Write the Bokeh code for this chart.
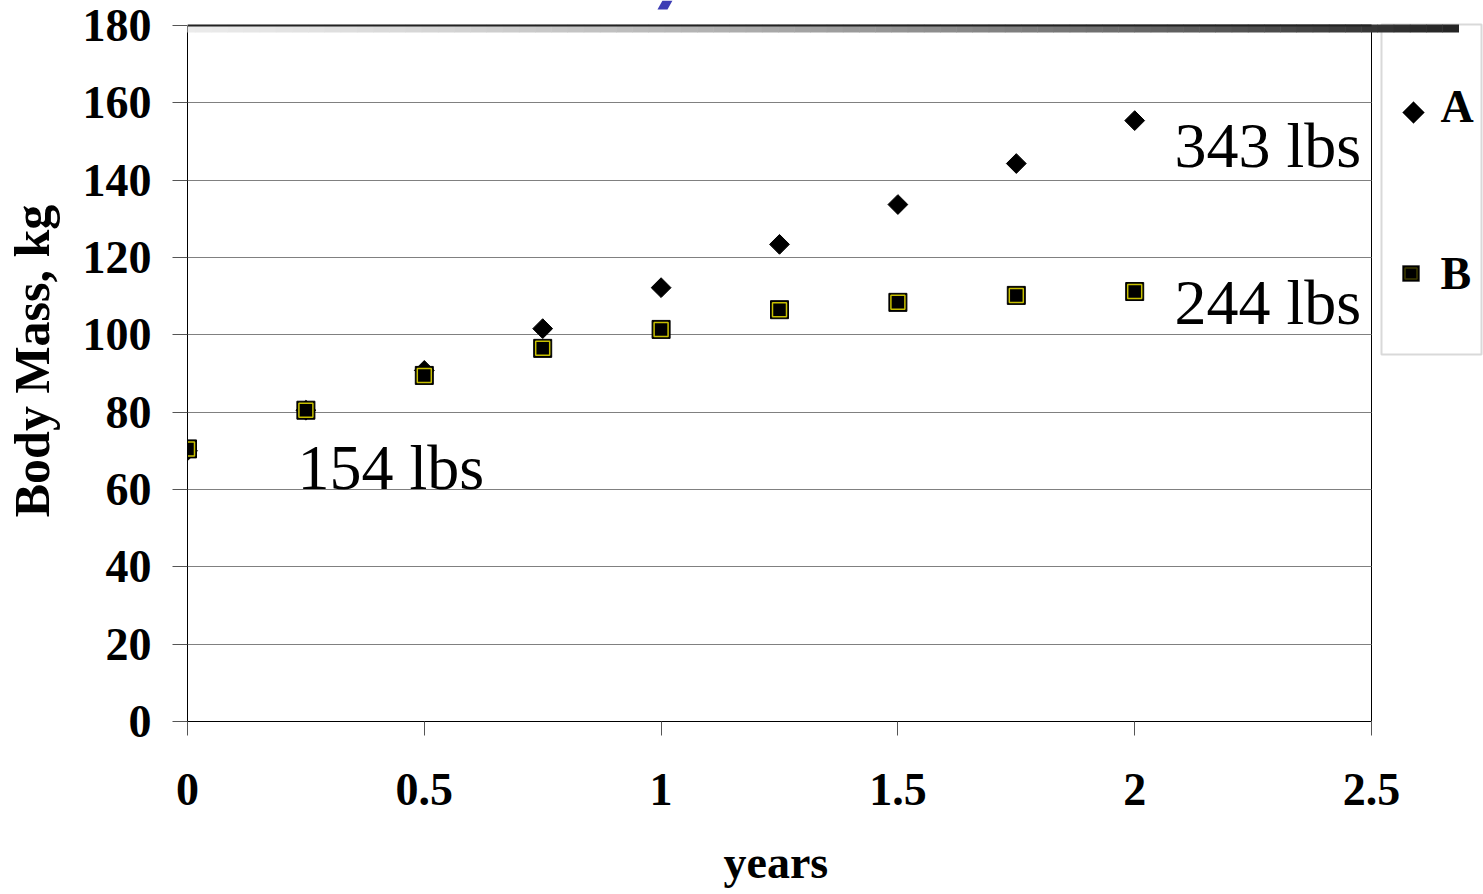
import numpy as np
from bokeh.plotting import figure
from bokeh.models import (FixedTicker, BoxAnnotation, PolyAnnotation, Label,
                          ColumnDataSource, Range1d, Title)
from bokeh.embed import file_html
from bokeh.resources import INLINE

# ---------------- data ----------------
years = [0.0, 0.25, 0.5, 0.75, 1.0, 1.25, 1.5, 1.75, 2.0]
mass_a = [70.0, 80.5, 90.8, 101.6, 112.2, 123.4, 133.7, 144.3, 155.4]
mass_b = [70.5, 80.5, 89.5, 96.5, 101.4, 106.5, 108.4, 110.2, 111.2]
series_names = ["A", "B"]
x_ticks = [0, 0.5, 1, 1.5, 2, 2.5]
x_tick_labels = ["0", "0.5", "1", "1.5", "2", "2.5"]
y_ticks = [0, 20, 40, 60, 80, 100, 120, 140, 160, 180]
note_texts = ["154 lbs", "343 lbs", "244 lbs"]

FONT = "Liberation Serif"

# plot-area geometry (pixels): axes span 1184 x 696 px; extra room right/top
X_MAX, Y_MAX = 2.5, 180
AX_W, AX_H = 1184, 696
EXTRA_R, EXTRA_T = 112, 25
x_end = X_MAX + EXTRA_R * X_MAX / AX_W
y_end = Y_MAX + EXTRA_T * Y_MAX / AX_H

p = figure(frame_width=AX_W + EXTRA_R, frame_height=AX_H + EXTRA_T,
           min_border_left=187, min_border_right=0,
           min_border_top=0, min_border_bottom=173,
           x_range=Range1d(0, x_end), y_range=Range1d(0, y_end),
           output_backend="svg", toolbar_location=None,
           background_fill_color="white", border_fill_color="white")

p.outline_line_color = None

# axes
p.xaxis.ticker = FixedTicker(ticks=x_ticks)
p.xaxis.major_label_overrides = {float(t): l for t, l in zip(x_ticks, x_tick_labels)}
p.xaxis.bounds = (0, X_MAX)
p.yaxis.ticker = FixedTicker(ticks=y_ticks)
p.yaxis.bounds = (0, Y_MAX)
p.axis.minor_tick_line_color = None
p.axis.axis_line_color = "black"
p.axis.axis_line_width = 1
p.axis.major_tick_line_color = "#555555"
p.axis.major_tick_in = 0
p.xaxis.major_tick_out = 14
p.yaxis.major_tick_out = 15
p.axis.major_label_text_font = FONT
p.axis.major_label_text_font_size = "46px"
p.axis.major_label_text_font_style = "bold"
p.axis.major_label_text_color = "black"
p.xaxis.major_label_standoff = 38
p.yaxis.major_label_standoff = 21

p.yaxis.axis_label = "Body Mass, kg"
p.yaxis.axis_label_text_font = FONT
p.yaxis.axis_label_text_font_style = "bold"
p.yaxis.axis_label_text_font_size = "50px"
p.yaxis.axis_label_text_color = "black"
p.yaxis.axis_label_standoff = 20

# x-axis title, centred under the axis span (not the wider frame)
p.add_layout(Title(text="years", align="left", offset=536, standoff=55,
                   text_font=FONT, text_font_size="46px", text_font_style="bold",
                   text_color="black"), "below")

# grid: horizontal lines, plus the right edge of the plot area
p.ygrid.ticker = FixedTicker(ticks=y_ticks)
p.ygrid.grid_line_color = "#808080"
p.ygrid.grid_line_width = 1
p.ygrid.cross_bounds = (0, X_MAX)
p.xgrid.ticker = FixedTicker(ticks=[X_MAX])
p.xgrid.grid_line_color = "black"
p.xgrid.grid_line_width = 1
p.xgrid.cross_bounds = (0, Y_MAX)

# ---------------- series ----------------
src = ColumnDataSource(dict(x=years, a=mass_a, b=mass_b))
p.scatter("x", "a", source=src, marker="square", angle=np.pi / 4, size=14,
          fill_color="black", line_color="black")
p.scatter("x", "b", source=src, marker="square", size=18,
          fill_color="black", line_color="black")
p.scatter("x", "b", source=src, marker="square", size=14,
          fill_alpha=0, line_color="#c8c000", line_width=1.5)

# annotations in lbs
note_pos = [(0.232, 65.7), (2.084, 149.0), (2.084, 108.4)]
for txt, (nx, ny) in zip(note_texts, note_pos):
    p.add_layout(Label(x=nx, y=ny, text=txt, text_font=FONT,
                       text_font_size="64px", text_baseline="alphabetic",
                       text_align="left", text_color="black"))

# ---------------- legend (drawn manually) ----------------
def cbox(l, r, t, b, **kw):
    return BoxAnnotation(left=l, right=r, top=t, bottom=b,
                         left_units="canvas", right_units="canvas",
                         top_units="canvas", bottom_units="canvas", **kw)

p.add_layout(cbox(1381, 1481, 24, 354, fill_color="white", fill_alpha=1,
                  line_color="#808080", line_width=2))
p.add_layout(PolyAnnotation(xs=[1413, 1424, 1413, 1402], ys=[101, 112, 123, 112],
                            xs_units="canvas", ys_units="canvas",
                            fill_color="black", fill_alpha=1, line_color="black"))
p.add_layout(cbox(1402, 1419, 265, 281, fill_color="black", fill_alpha=1,
                  line_color="black"))
p.add_layout(cbox(1404.5, 1416.5, 267.5, 278.5, fill_alpha=0,
                  line_color="#c8c000", line_width=1.5))
for name, by in zip(series_names, [106, 273]):
    p.add_layout(Label(x=1440, y=by, text=name, x_units="canvas", y_units="canvas",
                       text_font=FONT, text_font_size="46px", text_font_style="bold",
                       text_baseline="alphabetic", text_color="black"))

# ---------------- decorative top bar & title fragment ----------------
n = 90
bar_end = 1458
for i in range(n):
    t = i / (n - 1)
    c = int(round(242 - 205 * t ** 1.6))
    p.add_layout(cbox(bar_end * i / n, bar_end * (i + 1) / n + 0.5, 24, 32,
                      fill_color=(c, c, c), fill_alpha=1, line_color=None))
p.add_layout(cbox(187, 1371, 24, 26, fill_color="#222222", fill_alpha=1,
                  line_color=None))
p.add_layout(PolyAnnotation(xs=[662, 672, 667, 657], ys=[0, 0, 9, 9],
                            xs_units="canvas", ys_units="canvas",
                            fill_color="#3c3cb4", fill_alpha=1, line_color=None))

open("out.html", "w").write(file_html(p, INLINE))
